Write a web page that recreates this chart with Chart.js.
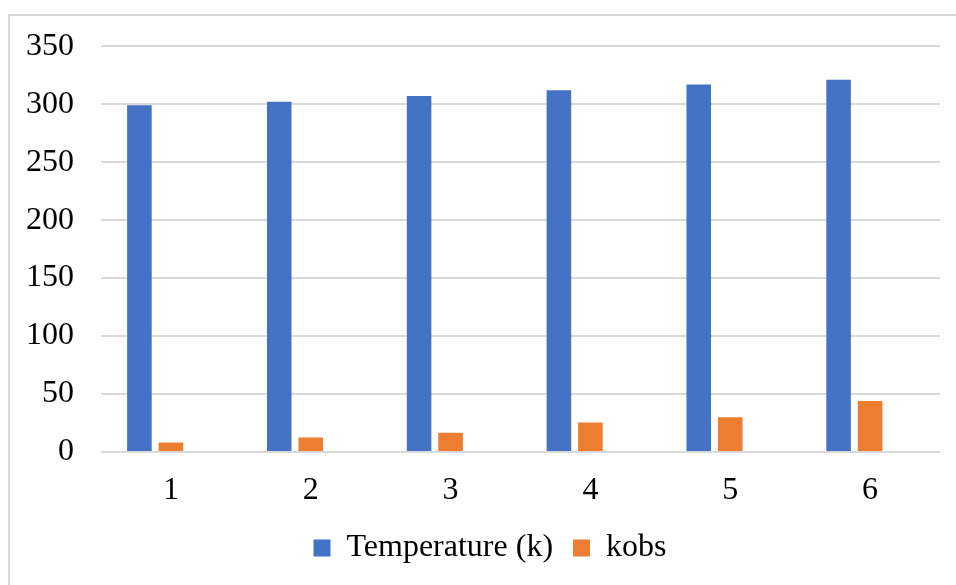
<!DOCTYPE html>
<html>
<head>
<meta charset="utf-8">
<script src="https://cdn.jsdelivr.net/npm/chart.js@4/dist/chart.umd.min.js"></script>
<style>
  body { margin: 0; background: #fff; }
  #wrap { position: relative; width: 956px; height: 585px; }
  #frame { position: absolute; left: 8px; top: 14px; right: 0; bottom: 0;
           border-top: 2px solid #d9d9d9; border-left: 2px solid #d9d9d9; }
  canvas { position: absolute; left: 0; top: 0; }
</style>
</head>
<body>
<div id="wrap">
  <div id="frame"></div>
  <canvas id="chart" width="956" height="585"></canvas>
</div>
<script>
const categories = ['1', '2', '3', '4', '5', '6'];
const temperature = [299, 302, 307, 312, 317, 321];
const kobs = [8.3, 12.6, 16.6, 25.5, 29.9, 43.9];
// the source sheet has a third, empty series that keeps its slot in each group
const emptySeries = [null, null, null, null, null, null];

const serif = 'Liberation Serif, Times New Roman, serif';

// the legend in the original sits a little right of the plot centre
const legendShift = {
    id: 'legendShift',
    beforeDraw(chart) {
        const lg = chart.legend;
        if (lg && !lg._shifted) {
            lg.left += 20;
            lg.right += 20;
            lg._shifted = true;
        }
    }
};

const ctx = document.getElementById('chart').getContext('2d');
const chart = new Chart(ctx, {
    type: 'bar',
    data: {
        labels: categories,
        datasets: [{
            label: 'Temperature (k)',
            data: temperature,
            backgroundColor: '#4472C4',
        }, {
            label: 'kobs',
            data: kobs,
            backgroundColor: '#ED7D31',
        }, {
            label: '',
            data: emptySeries,
            backgroundColor: '#A5A5A5',
        }]
    },
    options: {
        responsive: false,
        animation: false,
        categoryPercentage: 0.676,
        barPercentage: 0.78,
        layout: {
            padding: { top: 46, right: 16, bottom: 11, left: 0 }
        },
        scales: {
            x: {
                grid: { display: false },
                border: { display: false },
                ticks: {
                    color: '#000',
                    padding: 15,
                    font: { family: serif, size: 32, lineHeight: 1 }
                },
                afterFit: (scale) => { scale.height = 60; }
            },
            y: {
                min: 0,
                max: 350,
                grid: { color: '#d9d9d9', lineWidth: 2, drawTicks: false },
                border: { display: false },
                ticks: {
                    stepSize: 50,
                    color: '#000',
                    padding: 27,
                    font: { family: serif, size: 32 }
                },
                afterFit: (scale) => { scale.width = 101; }
            }
        },
        plugins: {
            tooltip: { enabled: false },
            legend: {
                position: 'bottom',
                labels: {
                    color: '#000',
                    boxWidth: 17,
                    boxHeight: 17,
                    padding: 20,
                    font: { family: serif, size: 32 },
                    filter: (item) => item.text !== ''
                }
            }
        }
    },
    plugins: [legendShift]
});
</script>
</body>
</html>
